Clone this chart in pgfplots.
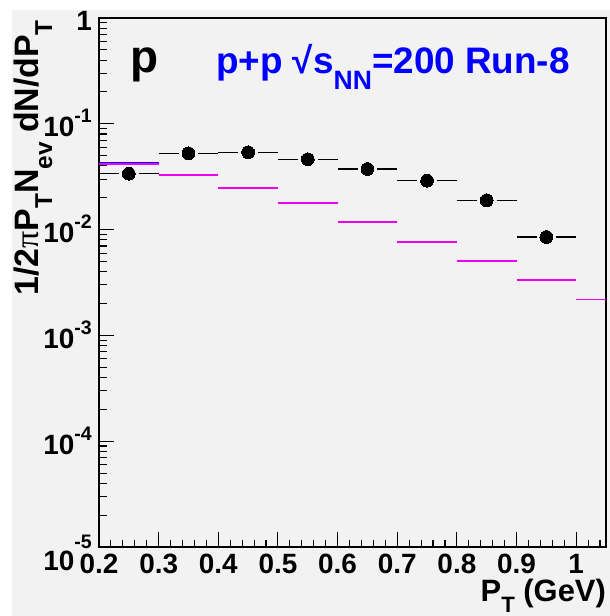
\documentclass[border=0pt]{standalone}
\usepackage{pgfplots}
\pgfplotsset{compat=1.18}
\usepackage{pgfplotstable}
\usepackage{fontspec}
\setmainfont{Liberation Sans}
\newfontfamily\symfont{Liberation Serif}
\definecolor{bg}{RGB}{242,242,242}
\definecolor{mag}{RGB}{238,0,238}
\newcommand\sbs[1]{\raisebox{-0.42em}{\scalebox{0.72}{#1}}}
\newcommand\sps[1]{\raisebox{0.5em}{\scalebox{0.7}{#1}}}

% black points: centre values
\pgfplotstableread{
x y
0.25 0.0338
0.35 0.0526
0.45 0.0538
0.55 0.0462
0.65 0.0374
0.75 0.0290
0.85 0.0189
0.95 0.00851
}\ptsdata

% horizontal error segments of black points (gap around the marker)
\pgfplotstableread{
x y
0.2000 0.0338
0.2335 0.0338
0.2335 nan
0.2665 0.0338
0.3000 0.0338
0.3000 nan
0.3000 0.0526
0.3335 0.0526
0.3335 nan
0.3665 0.0526
0.4000 0.0526
0.4000 nan
0.4000 0.0538
0.4335 0.0538
0.4335 nan
0.4665 0.0538
0.5000 0.0538
0.5000 nan
0.5000 0.0462
0.5335 0.0462
0.5335 nan
0.5665 0.0462
0.6000 0.0462
0.6000 nan
0.6000 0.0374
0.6335 0.0374
0.6335 nan
0.6665 0.0374
0.7000 0.0374
0.7000 nan
0.7000 0.0290
0.7335 0.0290
0.7335 nan
0.7665 0.0290
0.8000 0.0290
0.8000 nan
0.8000 0.0189
0.8335 0.0189
0.8335 nan
0.8665 0.0189
0.9000 0.0189
0.9000 nan
0.9000 0.00851
0.9335 0.00851
0.9335 nan
0.9665 0.00851
1.0000 0.00851
}\segdata

% magenta histogram (bin edges; last bin cut at the axis end)
\pgfplotstableread{
x y
0.2 0.0420
0.3 0.0420
0.3 nan
0.3 0.0330
0.4 0.0330
0.4 nan
0.4 0.0247
0.5 0.0247
0.5 nan
0.5 0.0177
0.6 0.0177
0.6 nan
0.6 0.0119
0.7 0.0119
0.7 nan
0.7 0.00769
0.8 0.00769
0.8 nan
0.8 0.00508
0.9 0.00508
0.9 nan
0.9 0.00332
1.0 0.00332
1.0 nan
1.0 0.00218
1.05 0.00218
}\magdata

% blue histogram (visible in first bin)
\pgfplotstableread{
x y
0.2 0.0432
0.3 0.0432
}\bluedata

\begin{document}
\begin{tikzpicture}[x=1bp,y=1bp]
\fill[white] (0,0) rectangle (610,616);
\fill[bg] (12,0) rectangle (610,606);
\path[use as bounding box] (0,0) rectangle (610,616);
\begin{axis}[
  at={(99bp,69bp)}, anchor=south west,
  width=507bp, height=529bp, scale only axis,
  xmin=0.2, xmax=1.05,
  ymode=log, ymin=1e-5, ymax=1,
  axis line style={line width=1.6bp},
  tick style={black, line width=1.1bp},
  major tick length=15bp, minor tick length=7.5bp,
  tick align=inside, tick pos=left,
  xtick={0.2,0.3,0.4,0.5,0.6,0.7,0.8,0.9,1.0},
  xticklabels={0.2,0.3,0.4,0.5,0.6,0.7,0.8,0.9,1},
  minor xtick={0.22,0.24,...,1.05},
  ytick={1e-5,1e-4,1e-3,1e-2,1e-1,1},
  yticklabels={\raisebox{-10bp}{10\raisebox{0.78em}{\scalebox{0.7}{-5}}}\hspace{4bp},10\sps{-4},10\sps{-3},10\sps{-2},10\sps{-1},1},
  minor ytick={2e-5,3e-5,4e-5,5e-5,6e-5,7e-5,8e-5,9e-5,
               2e-4,3e-4,4e-4,5e-4,6e-4,7e-4,8e-4,9e-4,
               2e-3,3e-3,4e-3,5e-3,6e-3,7e-3,8e-3,9e-3,
               2e-2,3e-2,4e-2,5e-2,6e-2,7e-2,8e-2,9e-2,
               2e-1,3e-1,4e-1,5e-1,6e-1,7e-1,8e-1,9e-1},
  ticklabel style={font=\fontsize{28}{28}\selectfont\bfseries},
  xticklabel style={anchor=base, inner sep=0pt, yshift=-26bp},
  yticklabel style={anchor=base east, inner sep=0pt, xshift=-7bp, yshift=-13bp},
  unbounded coords=jump,
  clip=true,
]
\addplot[blue, line width=1.5bp, mark=none] table[x=x, y=y] {\bluedata};
\addplot[mag, line width=1.8bp, mark=none] table[x=x, y=y] {\magdata};
\addplot[black, line width=1.2bp, mark=none] table[x=x, y=y] {\segdata};
\addplot[only marks, mark=*, mark size=6.4bp, mark options={fill=black, draw=black, line width=0pt}] table[x=x, y=y] {\ptsdata};
\end{axis}
\node[rotate=90, anchor=base east, inner sep=0pt, font=\fontsize{34}{34}\selectfont\bfseries]
  at (38, 596) {1/2{\symfont\mdseries π}P\sbs{T}N\sbs{ev} dN/dP\sbs{T}};
\node[anchor=base west, inner sep=0pt, font=\fontsize{46}{46}\selectfont\bfseries]
  at (130, 543) {p};
\node[anchor=base west, inner sep=0pt, text=blue, font=\fontsize{37}{37}\selectfont\bfseries]
  at (216, 542) {p+p √s\sbs{NN}=200 Run-8};
\node[anchor=base east, inner sep=0pt, font=\fontsize{31}{31}\selectfont\bfseries]
  at (606, 14) {P\raisebox{-0.33em}{\scalebox{0.72}{T}} (GeV)};
\end{tikzpicture}
\end{document}
